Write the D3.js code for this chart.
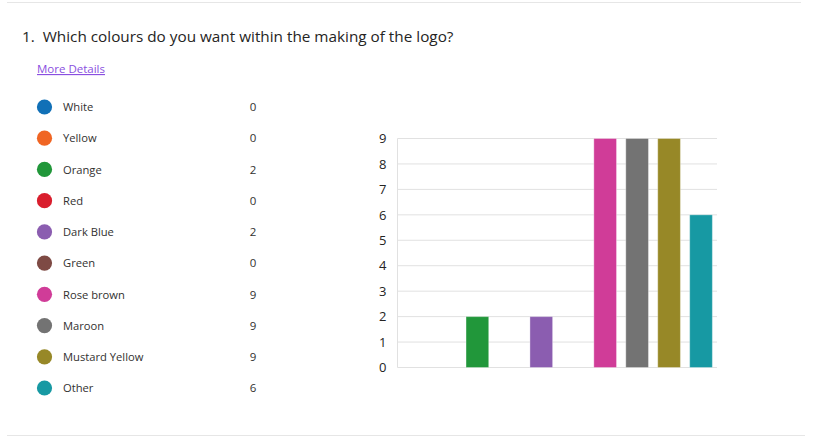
<!DOCTYPE html>
<html>
<head>
<meta charset="utf-8">
<script src="https://cdn.jsdelivr.net/npm/d3@7"></script>
<style>
  body { margin: 0; background: #fff; }
  svg text { font-family: "Open Sans", "Noto Sans", sans-serif; }
</style>
</head>
<body>
<svg id="chart" width="825" height="444"></svg>
<script>
var title = "1.  Which colours do you want within the making of the logo?";
var linkText = "More Details";
var categories = ["White", "Yellow", "Orange", "Red", "Dark Blue", "Green", "Rose brown", "Maroon", "Mustard Yellow", "Other"];
var counts = [0, 0, 2, 0, 2, 0, 9, 9, 9, 6];
var colours = ["#1170B7", "#F06523", "#21973A", "#D91E2D", "#8B5DB0", "#7E4A44", "#D03C98", "#737373", "#978827", "#1799A3"];
var yTicks = [0, 1, 2, 3, 4, 5, 6, 7, 8, 9];

var svg = d3.select("#chart");

// separator lines top and bottom
svg.append("line").attr("x1", 7).attr("x2", 801).attr("y1", 2.5).attr("y2", 2.5)
    .attr("stroke", "#e6e6e6").attr("stroke-width", 1);
svg.append("line").attr("x1", 7).attr("x2", 805).attr("y1", 435.5).attr("y2", 435.5)
    .attr("stroke", "#e6e6e6").attr("stroke-width", 1);

svg.append("text")
    .attr("x", 22).attr("y", 42)
    .attr("font-size", 15.3)
    .attr("fill", "#252423")
    .attr("xml:space", "preserve")
    .text(title);

svg.append("text")
    .attr("x", 37).attr("y", 73)
    .attr("font-size", 11.5)
    .attr("fill", "#8a4fe0")
    .attr("text-decoration", "underline")
    .text(linkText);

// legend list
var legend = svg.append("g");
var rowY = d3.scaleLinear().domain([0, 9]).range([107, 388]);
var rows = legend.selectAll("g.row")
    .data(categories)
    .enter().append("g")
    .attr("class", "row")
    .attr("transform", function (d, i) { return "translate(0," + rowY(i) + ")"; });

rows.append("circle")
    .attr("cx", 44.5).attr("cy", 0).attr("r", 7.6)
    .attr("fill", function (d, i) { return colours[i]; });

rows.append("text")
    .attr("x", 63).attr("y", 4.2)
    .attr("font-size", 11.2)
    .attr("fill", "#323130")
    .text(function (d) { return d; });

rows.append("text")
    .attr("x", 253).attr("y", 4.2)
    .attr("font-size", 11.5)
    .attr("text-anchor", "middle")
    .attr("fill", "#323130")
    .text(function (d, i) { return counts[i]; });

// bar chart
var x0 = 397.5, x1 = 717;
var xScale = d3.scaleBand()
    .domain(categories)
    .range([x0, x1])
    .paddingInner(0.29)
    .paddingOuter(0.145);

var yScale = d3.scaleLinear()
    .domain([0, 9])
    .range([367.5, 138.5]);

var grid = svg.append("g");
grid.selectAll("line")
    .data(yTicks)
    .enter().append("line")
    .attr("x1", x0).attr("x2", x1)
    .attr("y1", function (d) { return yScale(d); })
    .attr("y2", function (d) { return yScale(d); })
    .attr("stroke", "#e1e1e1");

svg.append("line")
    .attr("x1", x0).attr("x2", x0)
    .attr("y1", yScale(9)).attr("y2", yScale(0))
    .attr("stroke", "#e1e1e1");

var yAxis = d3.axisLeft(yScale)
    .tickValues(yTicks)
    .tickSize(0)
    .tickPadding(11)
    .tickFormat(d3.format("d"));

var yg = svg.append("g")
    .attr("transform", "translate(" + x0 + ",0)")
    .call(yAxis);
yg.select(".domain").remove();
yg.selectAll("text")
    .attr("font-size", 13)
    .attr("fill", "#252423")
    .style("font-family", "'Open Sans', 'Noto Sans', sans-serif");

svg.append("g").selectAll("rect")
    .data(categories)
    .enter().append("rect")
    .attr("x", function (d) { return xScale(d); })
    .attr("width", xScale.bandwidth())
    .attr("y", function (d, i) { return yScale(counts[i]); })
    .attr("height", function (d, i) { return yScale(0) - yScale(counts[i]); })
    .attr("fill", function (d, i) { return colours[i]; })
    .attr("stroke", "#fff")
    .attr("stroke-opacity", 0.35)
    .attr("stroke-width", 1);
</script>
</body>
</html>
